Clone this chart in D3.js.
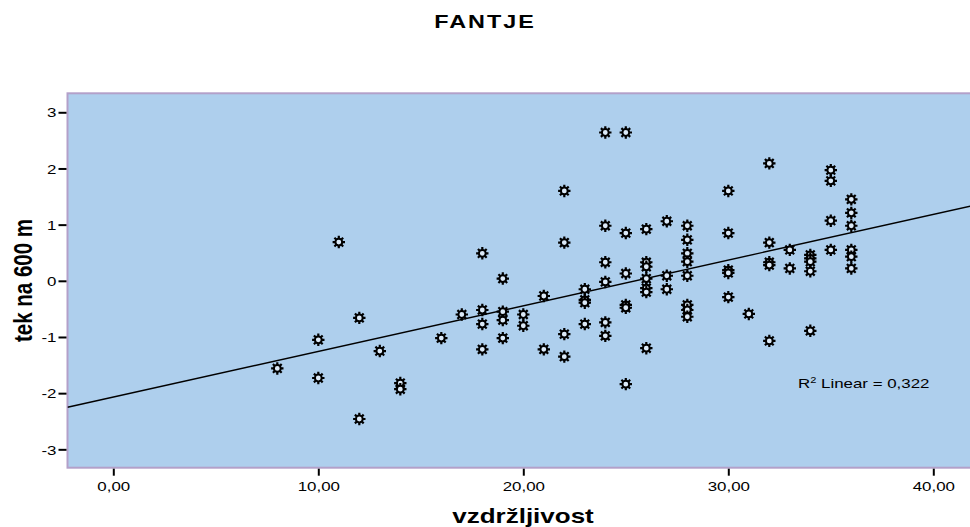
<!DOCTYPE html>
<html>
<head>
<meta charset="utf-8">
<script src="https://cdn.jsdelivr.net/npm/d3@7"></script>
<style>
  html, body { margin: 0; padding: 0; background: #ffffff; }
  svg { display: block; }
</style>
</head>
<body>
<div id="chart"></div>
<script>
// ---- data ----
const chartTitle = "FANTJE";
const xTitle = "vzdržljivost";
const yTitle = "tek na 600 m";
const xTicks = [0, 10, 20, 30, 40];
const yTicks = [-3, -2, -1, 0, 1, 2, 3];
const endurance = [
  8,
  10, 10,
  11,
  12, 12,
  13,
  14, 14,
  16,
  17,
  18, 18, 18, 18,
  19, 19, 19, 19,
  20, 20,
  21, 21,
  22, 22, 22, 22,
  23, 23, 23, 23,
  24, 24, 24, 24, 24, 24,
  25, 25, 25, 25, 25, 25,
  26, 26, 26, 26, 26, 26, 26,
  27, 27, 27,
  28, 28, 28, 28, 28, 28, 28, 28,
  30, 30, 30, 30, 30,
  31,
  32, 32, 32, 32, 32,
  33, 33,
  34, 34, 34, 34, 34,
  35, 35, 35, 35,
  36, 36, 36, 36, 36, 36
];
const run600 = [
  -1.56,
  -1.05, -1.73,
  0.69,
  -0.66, -2.46,
  -1.25,
  -1.82, -1.93,
  -1.02,
  -0.60,
  0.49, -0.52, -0.77, -1.22,
  0.04, -0.55, -0.70, -1.02,
  -0.60, -0.80,
  -0.27, -1.22,
  1.60, 0.68, -0.95, -1.35,
  -0.15, -0.34, -0.39, -0.77,
  2.64, 0.98, 0.33, -0.02, -0.74, -0.98,
  2.64, 0.85, 0.13, -0.43, -0.48, -1.84,
  0.92, 0.33, 0.25, 0.04, -0.13, -0.20, -1.20,
  1.06, 0.09, -0.15,
  0.98, 0.73, 0.49, 0.34, 0.09, -0.43, -0.52, -0.64,
  1.60, 0.85, 0.19, 0.14, -0.29,
  -0.59,
  2.09, 0.68, 0.33, 0.28, -1.07,
  0.55, 0.22,
  0.46, 0.40, 0.34, 0.17, -0.89,
  1.97, 1.78, 1.07, 0.55,
  1.45, 1.21, 0.98, 0.55, 0.43, 0.22
];
const fitIntercept = -2.07;
const fitSlope = 0.0813;
const r2Prefix = "R";
const r2Sup = "2";
const r2Rest = " Linear = 0,322";
const r2Position = [33.4, -1.91]; // data coords of label start

// ---- layout ----
const W = 970, H = 527;
const plotLeft = 67.5, plotRight = 971, plotTop = 93.3, plotBottom = 467.7;
const bg = "#aecfed";
const borderCol = "#b3a0c9";
const SX = 1.3; // horizontal stretch of text seen in the reference
const FONT = "'Liberation Sans', Arial, sans-serif";

const x = d3.scaleLinear()
  .domain([(plotLeft - 113.3) / 20.5, (plotRight - 113.3) / 20.5])
  .range([plotLeft, plotRight]);
const y = d3.scaleLinear()
  .domain([-3.327, 3.338])
  .range([plotBottom, plotTop]);

const svg = d3.select("#chart").append("svg")
  .attr("width", W).attr("height", H)
  .style("font-family", FONT);

// title
svg.append("text")
  .attr("transform", `translate(485,28) scale(${SX},1)`)
  .attr("text-anchor", "middle")
  .style("font-weight", "bold").style("font-size", "18px")
  .style("letter-spacing", "1.5px")
  .text(chartTitle);

// plot background
svg.append("rect")
  .attr("x", plotLeft).attr("y", plotTop)
  .attr("width", plotRight - plotLeft).attr("height", plotBottom - plotTop)
  .attr("fill", bg)
  .attr("stroke", borderCol).attr("stroke-width", 2);

// axes
const locale = d3.formatLocale({decimal: ",", thousands: ".", grouping: [3], currency: ["", ""], minus: "-"});
const fmtX = locale.format(".2f");
const fmtY = locale.format("d");

const xAxis = svg.append("g")
  .attr("transform", `translate(0,${plotBottom + 1})`)
  .call(d3.axisBottom(x).tickValues(xTicks).tickFormat(fmtX).tickSize(7).tickPadding(6));
const yAxis = svg.append("g")
  .attr("transform", `translate(${plotLeft - 1},0)`)
  .call(d3.axisLeft(y).tickValues(yTicks).tickFormat(fmtY).tickSize(8).tickPadding(0));

[xAxis, yAxis].forEach(g => {
  g.select(".domain").remove();
  g.selectAll(".tick line").attr("stroke", "#000").attr("stroke-width", 2);
  g.selectAll(".tick text").attr("fill", "#000")
    .style("font-size", "13px").style("font-family", FONT)
    .attr("transform", `scale(${SX},1)`);
});
yAxis.selectAll(".tick text").attr("dy", "0.36em").attr("x", -10 / SX);

// axis titles
svg.append("text")
  .attr("transform", `translate(523,523) scale(${SX},1)`)
  .attr("text-anchor", "middle")
  .style("font-weight", "bold").style("font-size", "20px")
  .text(xTitle);
svg.append("text")
  .attr("transform", `translate(32,${(plotTop + plotBottom) / 2}) scale(${SX},1) rotate(-90)`)
  .attr("text-anchor", "middle")
  .style("font-weight", "bold").style("font-size", "20.5px")
  .text(yTitle);

// clip
svg.append("clipPath").attr("id", "clip")
  .append("rect")
  .attr("x", plotLeft).attr("y", plotTop)
  .attr("width", plotRight - plotLeft).attr("height", plotBottom - plotTop);

const plot = svg.append("g").attr("clip-path", "url(#clip)");

// fit line
const [x0, x1] = x.domain();
plot.append("line")
  .attr("x1", x(x0)).attr("y1", y(fitIntercept + fitSlope * x0))
  .attr("x2", x(x1)).attr("y2", y(fitIntercept + fitSlope * x1))
  .attr("stroke", "#000").attr("stroke-width", 1.4);

// markers (gear-like asterisk)
const points = endurance.map((d, i) => ({x: d, y: run600[i]}));
const spokes = d3.range(8).map(i => i * Math.PI / 4);
const markerPath = spokes.map(a => {
  const c = Math.cos(a), s = Math.sin(a);
  return `M${(3.2 * c).toFixed(2)},${(3.2 * s).toFixed(2)}L${(6.2 * c).toFixed(2)},${(6.2 * s).toFixed(2)}`;
}).join("");

const mk = plot.selectAll("g.pt").data(points).join("g")
  .attr("class", "pt")
  .attr("transform", d => `translate(${x(d.x)},${y(d.y)})`);
mk.append("path").attr("d", markerPath)
  .attr("stroke", "#000").attr("stroke-width", 2.2).attr("fill", "none");
mk.append("circle").attr("r", 3.4)
  .attr("fill", "#dbe9f7").attr("stroke", "#000").attr("stroke-width", 2);

// R2 label
const r2 = svg.append("text")
  .attr("transform", `translate(${x(r2Position[0])},${y(r2Position[1])}) scale(${SX},1)`)
  .style("font-size", "13px");
r2.append("tspan").text(r2Prefix);
r2.append("tspan").attr("dy", -5).style("font-size", "8.5px").text(r2Sup);
r2.append("tspan").attr("dy", 5).text(r2Rest);
</script>
</body>
</html>
